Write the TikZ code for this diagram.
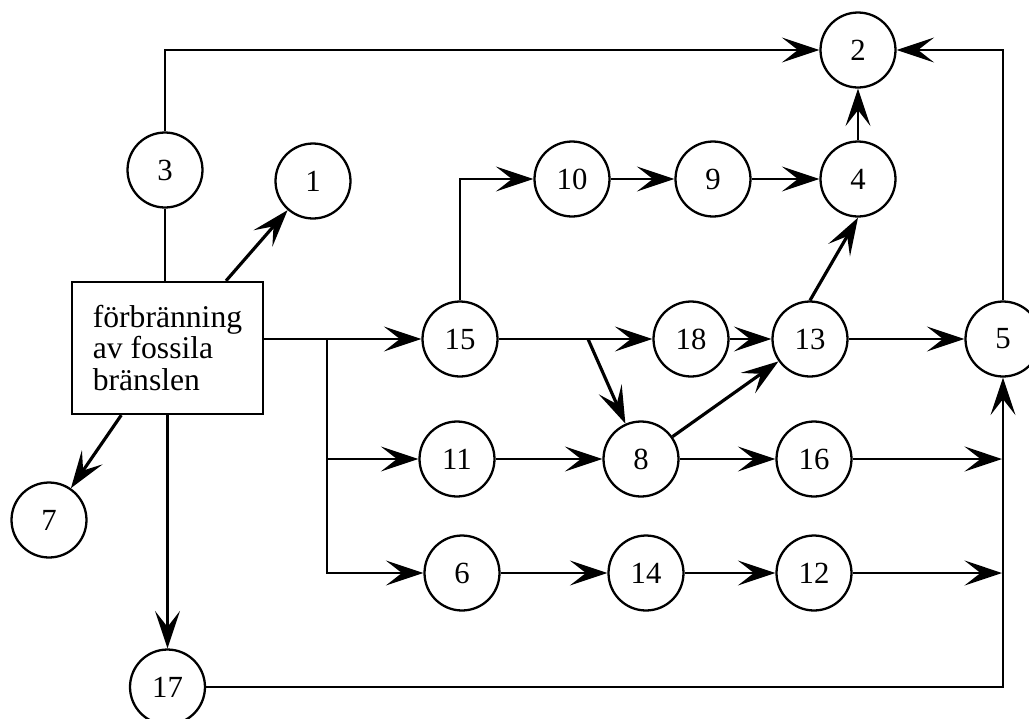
\documentclass[tikz,border=0pt]{standalone}
\usepackage{fontspec}
\setmainfont{Liberation Serif}
\usetikzlibrary{arrows.meta}
\newcommand{\stsize}{1.5cm}
\newcommand{\lw}{1.3pt}

\begin{document}
\begin{tikzpicture}[x=0.02cm,y=-0.02cm,line width=\lw,
	>={Stealth[length=7.5mm,width=5mm,inset=3.2mm]},
	st/.style={circle,draw,minimum size=\stsize,inner sep=0pt,font=\fontsize{17.5}{20}\selectfont},
	src/.style={rectangle,draw,minimum width=3.82cm,minimum height=2.64cm,inner sep=0pt,align=left,font=\fontsize{18}{18.2}\selectfont},
	diag/.style={line width=1.8pt}]
	\useasboundingbox (0,0) rectangle (1029,718);

	\node[src] (fb) at (167.5,348) {förbränning\\av fossila\\bränslen};
	\node[st] (s1) at (313,181) {1};
	\node[st] (s2) at (858,50) {2};
	\node[st] (s3) at (165,170) {3};
	\node[st] (s4) at (858,179) {4};
	\node[st] (s5) at (1003,339) {5};
	\node[st] (s6) at (462,573) {6};
	\node[st] (s7) at (49,520) {7};
	\node[st] (s8) at (641,459) {8};
	\node[st] (s9) at (713,179) {9};
	\node[st] (s10) at (572,179) {10};
	\node[st] (s11) at (457,459) {11};
	\node[st] (s12) at (814,573) {12};
	\node[st] (s13) at (810,339) {13};
	\node[st] (s14) at (646,573) {14};
	\node[st] (s15) at (460,339) {15};
	\node[st] (s16) at (814,459) {16};
	\node[st] (s17) at (167.5,687) {17};
	\node[st] (s18) at (691,339) {18};

	\coordinate (b1) at (327,339);
	\coordinate (b2) at (588,339);
	\coordinate (e16) at (1002,459);
	\coordinate (e12) at (1002,573);

	% out of the box
	\draw (s3) -- (s3 |- fb.north);
	\draw[->] (s3.north) |- (s2);
	\draw[->,diag] (fb) -- (s1);
	\draw[->,diag] (fb) -- (s7);
	\draw[->] (fb) -- (s17);
	\draw[->] (fb.east |- s15) -- (s15);
	\draw[->] (b1) |- (s11);
	\draw[->] (b1) |- (s6);

	% upper chain
	\draw[->] (s15.north) |- (s10);
	\draw[->] (s10) -- (s9);
	\draw[->] (s9) -- (s4);
	\draw[->] (s4) -- (s2);
	\draw[->] (s5.north) |- (s2);

	% middle
	\draw[->] (s15) -- (s18);
	\draw[->,diag] (b2) -- (s8);
	\draw[->] (s18) -- (s13);
	\draw[->,diag] (s13.north) -- (s4.south);
	\draw[->] (s13) -- (s5);
	\draw[->] (s11) -- (s8);
	\draw[->,diag] (s8) -- (s13);
	\draw[->] (s8) -- (s16);
	\draw[->] (s16) -- (e16);

	% lower chain
	\draw[->] (s6) -- (s14);
	\draw[->] (s14) -- (s12);
	\draw[->] (s12) -- (e12);
	\draw[->] (s17) -| (s5);
\end{tikzpicture}
\end{document}
